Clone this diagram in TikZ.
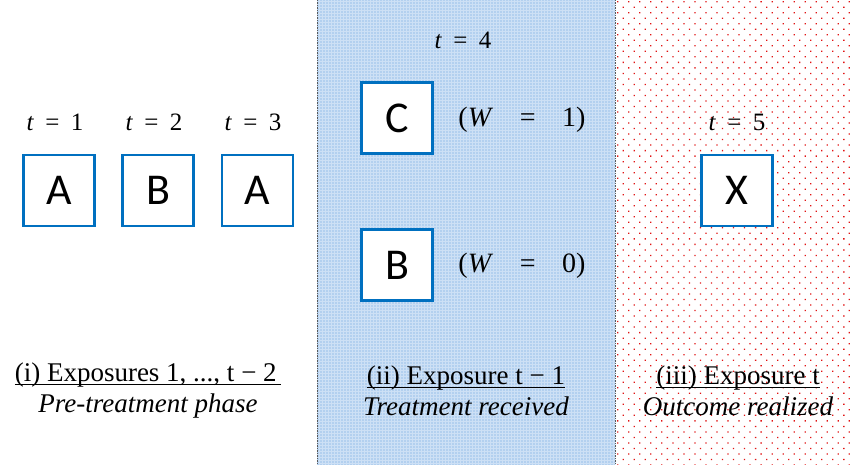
\documentclass[tikz,border=0pt]{standalone}
\usepackage{fontspec}
\setmainfont{Liberation Serif}
\newfontfamily\boxfont{Carlito}
\usetikzlibrary{patterns.meta}
\newcommand\ulbox[1]{\setbox0=\hbox{#1}\rlap{\rule[-3pt]{\wd0}{1.1pt}}\box0}
\newcommand\teq[1]{\textit{t}\hspace{0.45em}=\hspace{0.45em}#1}
\newcommand\weq[1]{(\textit{W}\hspace{0.95em}=\hspace{0.95em}#1)}
\definecolor{boxblue}{RGB}{0,112,192}
\definecolor{regionblue}{RGB}{205,224,245}
\definecolor{dotblue}{RGB}{95,155,222}
\definecolor{dotred}{RGB}{225,20,20}
\tikzset{
  expbox/.style={draw=boxblue, line width=2.6pt, fill=white, minimum size=71pt, inner sep=0pt,
    font=\boxfont\fontsize{44}{44}\selectfont},
  tlabel/.style={font=\fontsize{25}{30}\selectfont, inner sep=0pt},
  wlabel/.style={font=\fontsize{28}{32}\selectfont, inner sep=0pt},
  phase/.style={font=\fontsize{27}{31}\selectfont, align=center, inner sep=0pt},
  border/.style={draw=gray!70!black, line width=1pt, dash pattern=on 1.5pt off 1pt}
}
\begin{document}
\begin{tikzpicture}[x=1pt,y=-1pt]
\useasboundingbox (0,0) rectangle (850,465);
% regions
\fill[regionblue] (317,0) rectangle (615,465);
\fill[pattern={Dots[radius=0.55pt, distance=3pt]}, pattern color=dotblue] (317,0) rectangle (615,465);
\fill[pattern={Dots[radius=0.9pt, distance=7.8pt, angle=45]}, pattern color=dotred] (616,0) rectangle (850,465);
\draw[border] (317,0) -- (317,465);
\draw[border] (615,0) -- (615,465);
% boxes
\node[expbox] (a1) at (59,190.5) {A};
\node[expbox] (b2) at (158,190.5) {B};
\node[expbox] (a3) at (257.5,190.5) {A};
\node[expbox] (c4) at (397,118) {C};
\node[expbox] (b4) at (397,265) {B};
\node[expbox] (x5) at (737,190.5) {X};
% time labels
\node[tlabel] (t1) at (55,122) {\teq{1}};
\node[tlabel] (t2) at (154,122) {\teq{2}};
\node[tlabel] (t3) at (253,122) {\teq{3}};
\node[tlabel] (t4) at (463,40) {\teq{4}};
\node[tlabel] (t5) at (737,122) {\teq{5}};
\node[wlabel] (w1) at (522,120) {\weq{1}};
\node[wlabel] (w0) at (522,266) {\weq{0}};
% phase labels
\node[phase] (p1) at (148,391) {\ulbox{(i) Exposures 1, ..., t − 2\,}\\ \textit{Pre-treatment phase}};
\node[phase] (p2) at (466,391) {\ulbox{(ii) Exposure t − 1}\\ \textit{Treatment received}};
\node[phase] (p3) at (738,391) {\ulbox{(iii) Exposure t}\\ \textit{Outcome realized}};
\end{tikzpicture}
\end{document}
